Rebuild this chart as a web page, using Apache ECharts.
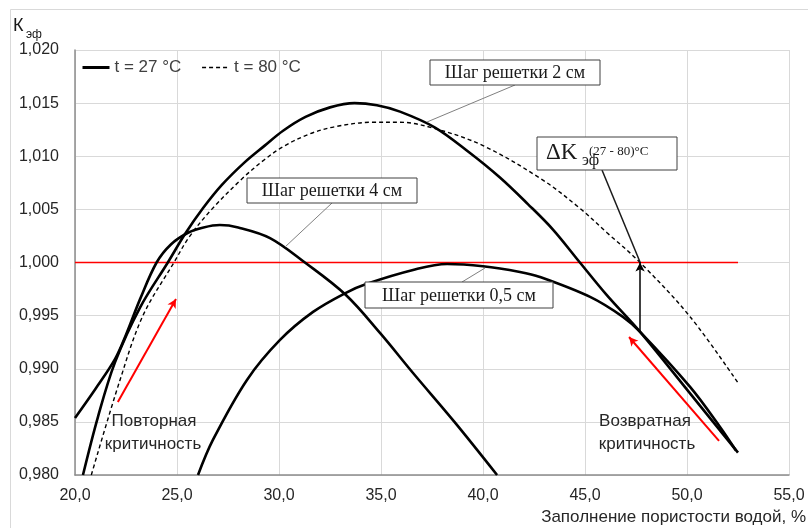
<!DOCTYPE html>
<html><head><meta charset="utf-8">
<script src="https://cdn.jsdelivr.net/npm/echarts@6/dist/echarts.min.js"></script>
<style>html,body{margin:0;padding:0;background:#fff}#c{width:808px;height:528px}</style>
</head><body><div id="c"></div>
<script>
// Water filling of porosity, %  ->  K_eff
const lattice2cm_t27 = [[20.39,0.9800],[21.13,0.9855],[21.96,0.9906],[23.2,0.9958],[24.55,1.0000],[25.4,1.0027],[26.27,1.0051],[27.2,1.0073],[28.3,1.0094],[29.3,1.0110],[30.2,1.0124],[31.3,1.0137],[32.5,1.0146],[33.7,1.0150],[34.8,1.0148],[35.93,1.0142],[37.65,1.0127],[39.3,1.0104],[40.83,1.0080],[42.2,1.0055],[43.43,1.0031],[44.75,1.0000],[46.08,0.9969],[47.7,0.99347],[50.1,0.9878],[52.5,0.9821]];
const lattice2cm_t80 = [[20.8,0.9800],[22.2,0.9889],[23.33,0.9950],[24.85,1.0000],[25.6,1.0024],[26.7,1.0050],[28.2,1.0079],[29.3,1.0097],[30.2,1.0109],[31.5,1.0121],[32.8,1.0128],[34.6,1.0132],[35.93,1.0132],[37.65,1.0126],[40.0,1.0110],[42.9,1.0078],[44.75,1.0051],[46.08,1.0028],[47.7,1.0000],[50.15,0.9949],[52.5,0.98867]];
const lattice4cm_t27 = [[20.0,0.98537],[21.0,0.9881],[21.96,0.9909],[22.5,0.9932],[23.2,0.9966],[24.0,1.0000],[24.7,1.0017],[25.54,1.0028],[26.3,1.0033],[27.1,1.00353],[28.0,1.0033],[29.56,1.0023],[31.27,1.0000],[33.28,0.99694],[34.95,0.99337],[36.57,0.9896],[38.6,0.9850],[40.69,0.9800]];
const lattice05cm_t27 = [[26.03,0.9800],[26.76,0.9833],[28.43,0.98895],[30.05,0.99271],[31.67,0.99535],[33.28,0.99715],[34.31,0.99800],[36.57,0.99930],[38.24,0.99986],[40.0,0.99965],[41.81,0.99911],[42.79,0.99864],[45.25,0.99676],[46.86,0.99488],[47.7,0.99347],[50.15,0.98829],[51.62,0.98452],[52.4,0.9823]];
const criticalLevel = [[20.0,1.000],[52.5,1.000]];
const repeatArrow = [[22.1,0.98688],[24.95,0.99657]];
const returnArrow = [[51.57,0.98321],[47.16,0.99299]];
const deltaArrow = [[47.7,0.99347],[47.7,1.000]];
const xTickValues = [20,25,30,35,40,45,50,55];
const yTickValues = [0.980,0.985,0.990,0.995,1.000,1.005,1.010,1.015,1.020];
const legendNames = ['t = 27 °C','t = 80 °C'];

const chart = echarts.init(document.getElementById('c'), null, {renderer:'canvas'});
const SANS = '"Liberation Sans", Arial, sans-serif';
const SERIF = '"Liberation Serif", "Times New Roman", serif';

function arrowLine(pts, color, width){
  return {
    silent:true, symbol:['none','arrow'], symbolSize:[7,9],
    label:{show:false}, emphasis:{disabled:true},
    lineStyle:{color:color, width:width, type:'solid'},
    data:[[{coord:pts[0]},{coord:pts[1]}]]
  };
}

function box(x,y,w,h,text,size){
  return {type:'group', children:[
    {type:'rect', shape:{x:x,y:y,width:w,height:h}, style:{fill:'#fff', stroke:'#404040', lineWidth:1}, z:10},
    {type:'text', x:x+w/2, y:y+h/2+1, style:{text:text, font:size+'px '+SERIF, fill:'#1a1a1a', align:'center', verticalAlign:'middle'}, z:11}
  ]};
}

const option = {
  animation:false,
  backgroundColor:'#fff',
  grid:{left:75, right:19, top:50, bottom:53, containLabel:false},
  legend:{
    data:[{name:legendNames[0], lineStyle:{width:3}}, {name:legendNames[1], lineStyle:{width:1.5}}],
    left:76, top:54, itemWidth:27, itemHeight:12, itemGap:20,
    itemStyle:{opacity:0},
    textStyle:{fontSize:17, color:'#404040', fontFamily:SANS},
    selectedMode:false
  },
  xAxis:{
    type:'value', min:20, max:55, interval:5,
    axisLine:{show:true, onZero:false, lineStyle:{color:'#8c8c8c', width:1.5}},
    axisTick:{show:false},
    axisLabel:{fontSize:16, color:'#262626', fontFamily:SANS, margin:13,
      formatter:v => xTickValues.includes(v) ? v.toFixed(1).replace('.',',') : ''},
    splitLine:{show:true, lineStyle:{color:'#d9d9d9', width:1}}
  },
  yAxis:{
    type:'value', min:0.980, max:1.020, interval:0.005,
    axisLine:{show:true, onZero:false, lineStyle:{color:'#8c8c8c', width:1.5}},
    axisTick:{show:false},
    axisLabel:{fontSize:16, color:'#262626', fontFamily:SANS, margin:16,
      formatter:v => v.toFixed(3).replace('.',',')},
    splitLine:{show:true, lineStyle:{color:'#d9d9d9', width:1}}
  },
  series:[
    {name:'critical', type:'line', data:criticalLevel, symbol:'none', silent:true,
      lineStyle:{color:'#ff0000', width:1.5}, z:2},
    {name:'4 см', type:'line', data:lattice4cm_t27, smooth:0.35, symbol:'none', silent:true,
      lineStyle:{color:'#000', width:2.6}, z:3},
    {name:'0,5 см', type:'line', data:lattice05cm_t27, smooth:0.35, symbol:'none', silent:true,
      lineStyle:{color:'#000', width:2.6}, z:3},
    {name:legendNames[1], type:'line', data:lattice2cm_t80, smooth:0.35, symbol:'none', silent:true,
      itemStyle:{color:'#000'}, lineStyle:{color:'#000', width:1.4, type:[4,3]}, z:3},
    {name:legendNames[0], type:'line', data:lattice2cm_t27, smooth:0.35, symbol:'none', silent:true,
      itemStyle:{color:'#000'}, lineStyle:{color:'#000', width:2.6}, z:4},
    {name:'arrowRepeat', type:'line', data:[], markLine:arrowLine(repeatArrow,'#ff0000',2), z:5},
    {name:'arrowReturn', type:'line', data:[], markLine:arrowLine(returnArrow,'#ff0000',2), z:5},
    {name:'arrowDelta', type:'line', data:[], markLine:arrowLine(deltaArrow,'#000',1.5), z:5}
  ],
  graphic:[
    {type:'rect', shape:{x:10.5,y:9.5,width:830,height:560}, style:{fill:'none', stroke:'#d9d9d9', lineWidth:1}, silent:true},
    // Y title
    {type:'text', x:13, y:35, style:{text:'К', font:'18px '+SANS, fill:'#1a1a1a', verticalAlign:'bottom'}},
    {type:'text', x:26, y:41, style:{text:'эф', font:'12px '+SANS, fill:'#1a1a1a', verticalAlign:'bottom'}},
    // X title
    {type:'text', x:806, y:517, style:{text:'Заполнение пористости водой, %', font:'17px '+SANS, fill:'#262626', align:'right', verticalAlign:'middle'}},
    // leader lines
    {type:'line', shape:{x1:515,y1:85,x2:427,y2:122}, style:{stroke:'#808080', lineWidth:1}, z:9},
    {type:'line', shape:{x1:332,y1:203,x2:285,y2:247}, style:{stroke:'#808080', lineWidth:1}, z:9},
    {type:'line', shape:{x1:462,y1:282,x2:485,y2:268}, style:{stroke:'#808080', lineWidth:1}, z:9},
    {type:'line', shape:{x1:602,y1:170,x2:640,y2:262}, style:{stroke:'#1a1a1a', lineWidth:1.5}, z:9},
    box(430,60,170,25,'Шаг решетки 2 см',18),
    box(247,178,170,25,'Шаг решетки 4 см',18),
    box(365,282,188,26,'Шаг решетки 0,5 см',18),
    {type:'group', children:[
      {type:'rect', shape:{x:537,y:137,width:140,height:33}, style:{fill:'#fff', stroke:'#404040', lineWidth:1}, z:10},
      {type:'text', x:546, y:164, style:{text:'ΔK', font:'23px '+SERIF, fill:'#1a1a1a', verticalAlign:'bottom'}, z:11},
      {type:'text', x:582, y:169, style:{text:'эф', font:'16px '+SERIF, fill:'#1a1a1a', verticalAlign:'bottom'}, z:11},
      {type:'text', x:589, y:158, style:{text:'(27 - 80)°C', font:'13px '+SERIF, fill:'#1a1a1a', verticalAlign:'bottom'}, z:11}
    ]},
    // region notes
    {type:'text', x:154, y:421, style:{text:'Повторная', font:'17px '+SANS, fill:'#262626', align:'center', verticalAlign:'middle'}, z:8},
    {type:'text', x:153, y:444, style:{text:'критичность', font:'17px '+SANS, fill:'#262626', align:'center', verticalAlign:'middle'}, z:8},
    {type:'text', x:645, y:421, style:{text:'Возвратная', font:'17px '+SANS, fill:'#262626', align:'center', verticalAlign:'middle'}, z:8},
    {type:'text', x:647, y:444, style:{text:'критичность', font:'17px '+SANS, fill:'#262626', align:'center', verticalAlign:'middle'}, z:8}
  ]
};
chart.setOption(option);
</script>
</body></html>
